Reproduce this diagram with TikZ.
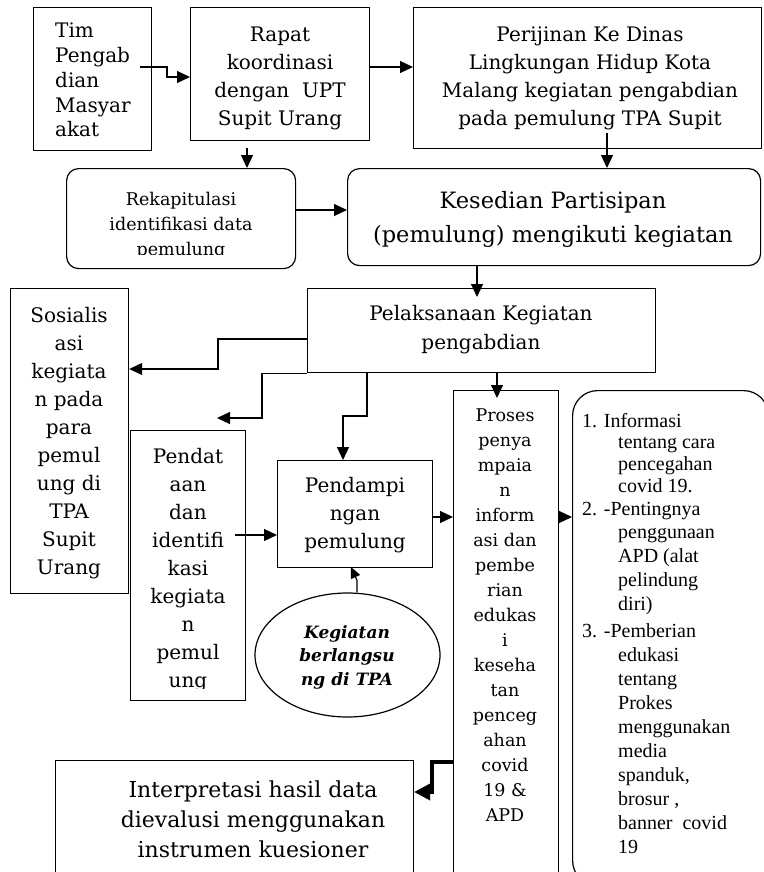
\documentclass[tikz,border=0pt]{standalone}
\usepackage{fontspec}
\setmainfont{DejaVu Serif}
\newfontfamily\timesf{Liberation Serif}
\usetikzlibrary{arrows.meta,calc,shapes.geometric}
\newcommand\myfs[2]{\fontsize{#1}{#2}\selectfont}
\newcommand\ml[2]{\begin{tabular}[t]{@{}#1@{}}#2\end{tabular}}
\tikzset{
  box/.style={draw, line width=1.2pt, inner sep=0pt, anchor=north west},
  rbox/.style={box, rounded corners=12pt},
  txt/.style={inner sep=0pt, anchor=base},
  ltxt/.style={inner sep=0pt, anchor=base west},
  arr/.style={line width=1.2pt, -{Triangle[length=13pt,width=12pt]}},
  thickarr/.style={line width=3.5pt, -{Triangle[length=16pt,width=16pt]}},
}
\begin{document}
\begin{tikzpicture}[x=1pt,y=-1pt]
\path[fill=white, use as bounding box] (0,0) rectangle (763,872);

% boxes
\node[box, minimum width=118pt, minimum height=143pt] (tim) at (33,7) {};
\node[box, minimum width=179pt, minimum height=133pt] (rapat) at (190,7) {};
\node[box, minimum width=348pt, minimum height=141pt] (perij) at (413,7) {};
\node[rbox, minimum width=229pt, minimum height=100pt] (rekap) at (66,168) {};
\node[rbox, minimum width=413pt, minimum height=97pt] (kesed) at (347,168) {};
\node[box, minimum width=348pt, minimum height=84pt] (pelak) at (307,288) {};
\node[box, minimum width=118pt, minimum height=305pt] (sosial) at (10,288) {};
\node[box, minimum width=115pt, minimum height=270pt] (pendat) at (130,430) {};
\node[box, minimum width=155pt, minimum height=107pt] (pendamp) at (277,460) {};
\node[draw, line width=1.2pt, ellipse, inner sep=0pt, minimum width=185pt, minimum height=124pt] (ell) at (347.5,655) {};
\node[box, minimum width=105pt, minimum height=495pt] (proses) at (453,390) {};
\node[box, rounded corners=25pt, minimum width=196pt, minimum height=495pt] (list) at (572,390) {};
\node[box, minimum width=358pt, minimum height=125pt] (interp) at (55,760) {};

% texts
\node[ltxt, font=\myfs{20}{24.75}] (timT) at (55,38) {\ml{l}{Tim\\Pengab\\dian\\Masyar\\akat}};
\node[txt, font=\myfs{20}{28}] (rapatT) at (280,42) {\ml{c}{Rapat\\koordinasi\\dengan~~UPT\\Supit Urang}};
\node[txt, font=\myfs{20}{28}] (perijT) at (590,42) {\ml{c}{Perijinan Ke Dinas\\Lingkungan Hidup Kota\\Malang kegiatan pengabdian\\pada pemulung TPA Supit}};
\begin{scope}
\clip (0,0) rectangle (763,254);
\node[txt, font=\myfs{17.5}{25}] (rekapT) at (181,205) {\ml{c}{Rekapitulasi\\identifikasi data\\pemulung}};
\end{scope}
\node[txt, font=\myfs{22.5}{34}] (kesedT) at (553,208) {\ml{c}{Kesedian Partisipan\\(pemulung) mengikuti kegiatan}};
\node[txt, font=\myfs{20}{29}] (pelakT) at (481,320) {\ml{c}{Pelaksanaan Kegiatan\\pengabdian}};
\node[txt, font=\myfs{20}{28.1}] (sosialT) at (69,322) {\ml{c}{Sosialis\\asi\\kegiata\\n pada\\para\\pemul\\ung di\\TPA\\Supit\\Urang}};
\begin{scope}
\clip (0,0) rectangle (763,688);
\node[txt, font=\myfs{20}{28}] (pendatT) at (188,463) {\ml{c}{Pendat\\aan\\dan\\identifi\\kasi\\kegiata\\n\\pemul\\ung}};
\node[txt, font=\bfseries\itshape\myfs{17}{23.5}] (ellT) at (347,638) {\ml{c}{Kegiatan\\berlangsu\\ng di TPA}};
\end{scope}
\node[txt, font=\myfs{20}{28}] (pendampT) at (355,492) {\ml{c}{Pendampi\\ngan\\pemulung}};
\node[txt, font=\myfs{17.5}{25}] (prosesT) at (505,421) {\ml{c}{Proses\\penya\\mpaia\\n\\inform\\asi dan\\pembe\\rian\\edukas\\i\\keseha\\tan\\penceg\\ahan\\covid\\19 \&\\APD}};
\node[ltxt, font=\timesf\myfs{20}{21.7}] (item1) at (582,427) {\ml{l}{1. Informasi\\\hspace*{36pt}tentang cara\\\hspace*{36pt}pencegahan\\\hspace*{36pt}covid 19.}};
\node[ltxt, font=\timesf\myfs{20}{23.75}] (item2) at (582,515) {\ml{l}{2. -Pentingnya\\\hspace*{36pt}penggunaan\\\hspace*{36pt}APD (alat\\\hspace*{36pt}pelindung\\\hspace*{36pt}diri)}};
\node[ltxt, font=\timesf\myfs{20}{24}] (item3) at (582,637) {\ml{l}{3. -Pemberian\\\hspace*{36pt}edukasi\\\hspace*{36pt}tentang\\\hspace*{36pt}Prokes\\\hspace*{36pt}menggunakan\\\hspace*{36pt}media\\\hspace*{36pt}spanduk,\\\hspace*{36pt}brosur ,\\\hspace*{36pt}banner~~covid\\\hspace*{36pt}19}};
\node[txt, font=\myfs{22}{30}] (interpT) at (253,797) {\ml{c}{Interpretasi hasil data\\dievalusi menggunakan\\instrumen kuesioner}};

% connectors
\coordinate (c1) at (140,67);
\draw[arr] (c1) -- ++(27,0) -- ++(0,10) coordinate (c1b) -- (c1b -| rapat.west);
\coordinate (c2) at (rapat.east |- c1);
\draw[arr] (c2) -- (c2 -| perij.west);
\coordinate (c3) at (247,148);
\draw[arr] (c3) -- (c3 |- rekap.north);
\coordinate (c4) at (295,210);
\draw[arr] (c4) -- (c4 -| kesed.west);
\coordinate (c5) at (607,133);
\draw[arr] (c5) -- (c5 |- kesed.north);
\coordinate (c6) at (477,265);
\draw[arr] (c6) -- ($(c6 |- pelak.north)+(0,9)$);
\coordinate (c7) at (307,339);
\coordinate (c7b) at (218,369);
\draw[arr] (c7) -| (c7b) -- (c7b -| sosial.east);
\coordinate (c8) at (262,418);
\coordinate (c8t) at (217,418);
\draw[arr] (pelak.south west) -| (c8) -- (c8t);
\coordinate (c9) at (367,372);
\coordinate (c9b) at (343,416);
\draw[arr] (c9) |- (c9b) -- (c9b |- pendamp.north);
\coordinate (c10) at (497,372);
\draw[arr] (c10) -- ($(c10 |- proses.north)+(0,8)$);
\coordinate (c11) at (235,535);
\draw[arr] (c11) -- (c11 -| pendamp.west);
\coordinate (c12) at ($(ell.north)+(9.5,0)$);
\coordinate (c12t) at (351,567);
\draw[line width=1.2pt, -{Triangle[length=11pt,width=10pt]}] (c12) -- ++(0,-12) -- (c12t);
\coordinate (c13) at (432,517);
\draw[arr] (c13) -- (c13 -| proses.west);
\coordinate (c14) at (558,517);
\draw[arr] (c14) -- (c14 -| list.west);
\coordinate (c15) at (453,762);
\coordinate (c15b) at (432,792);
\draw[thickarr, gray!60, shift={(1.5,2)}] (c15) -| (c15b) -- (c15b -| interp.east);
\draw[thickarr] (c15) -| (c15b) -- (c15b -| interp.east);
\end{tikzpicture}
\end{document}
